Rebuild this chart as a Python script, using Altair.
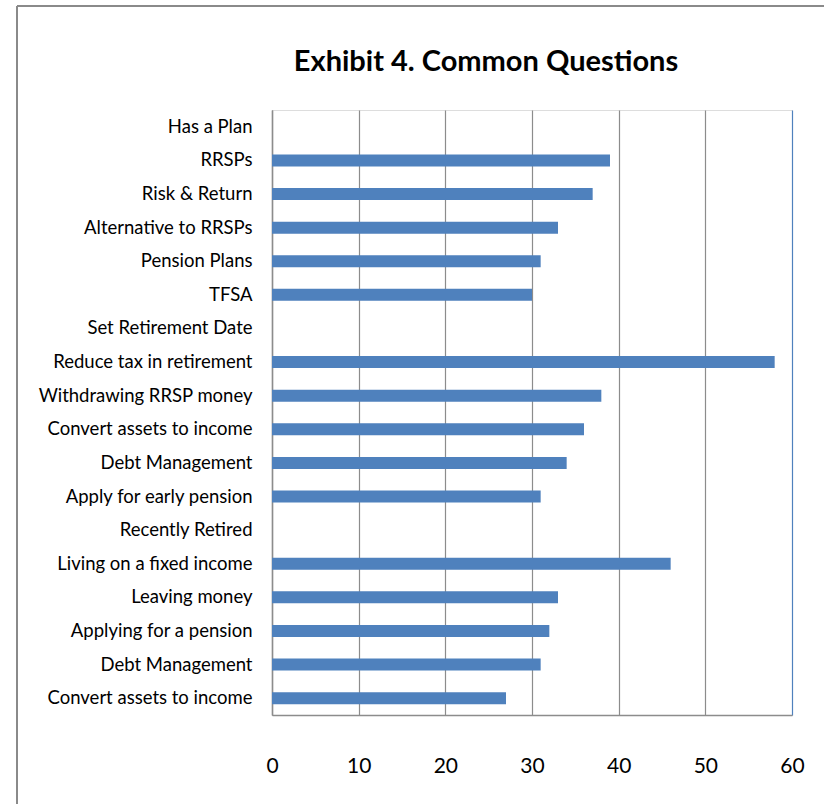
import altair as alt
import pandas as pd

TITLE = "Exhibit 4. Common Questions"

# Questions, top to bottom; section headers carry no count
questions = [
    "Has a Plan",
    "RRSPs",
    "Risk & Return",
    "Alternative to RRSPs",
    "Pension Plans",
    "TFSA",
    "Set Retirement Date",
    "Reduce tax in retirement",
    "Withdrawing RRSP money",
    "Convert assets to income",
    "Debt Management",
    "Apply for early pension",
    "Recently Retired",
    "Living on a fixed income",
    "Leaving money",
    "Applying for a pension",
    "Debt Management",
    "Convert assets to income",
]
counts = [None, 39, 37, 33, 31, 30, None, 58, 38, 36, 34, 31, None, 46, 33, 32, 31, 27]
x_ticks = [0, 10, 20, 30, 40, 50, 60]

FONT = "Lato"
BAR = "#4f81bd"
GRID = "#8c8c8c"

# Labels repeat, so rows are keyed by position and relabelled on the axis
df = pd.DataFrame({"row": list(range(len(questions))), "count": counts})
label_js = "[" + ",".join("'" + q.replace("'", "\\'") + "'" for q in questions) + "]"

bars = alt.Chart(df).mark_bar(color=BAR, size=12).encode(
    x=alt.X(
        "count:Q",
        scale=alt.Scale(domain=[0, 60], nice=False),
        axis=alt.Axis(
            values=x_ticks,
            title=None,
            grid=True,
            gridColor={"condition": {"test": "datum.value === 60", "value": BAR}, "value": GRID},
            gridWidth=1.2,
            ticks=False,
            domainColor=GRID,
            domainWidth=1.5,
            labelFont=FONT,
            labelFontSize=21,
            labelColor="#000000",
            labelPadding=40,
            labelFlush=False,
        ),
    ),
    y=alt.Y(
        "row:O",
        scale=alt.Scale(domain=list(range(len(questions))), paddingInner=0.66, paddingOuter=0.33),
        axis=alt.Axis(
            title=None,
            ticks=False,
            domainColor=GRID,
            domainWidth=1.5,
            labelFont=FONT,
            labelFontSize=18.5,
            labelColor="#000000",
            labelPadding=20,
            labelLimit=0,
            labelExpr=label_js + "[datum.value]",
        ),
    ),
)

# Chart heading, placed over the figure rather than over the plot area
heading = alt.Chart(pd.DataFrame({"t": [TITLE]})).mark_text(
    font=FONT, fontSize=29, fontWeight="bold", color="#000000", align="center", baseline="alphabetic"
).encode(x=alt.value(214), y=alt.value(-39), text="t:N")

# Outer frame lines along the left and top edges of the figure
frame_left = alt.Chart(df).mark_rule(color="#8a8a8a", strokeWidth=2).encode(
    x=alt.value(-255), y=alt.value(-104), y2=alt.value(700)
)
frame_top = alt.Chart(df).mark_rule(color="#8a8a8a", strokeWidth=2).encode(
    x=alt.value(-255), x2=alt.value(560), y=alt.value(-104)
)

chart = (
    alt.layer(frame_left, frame_top, heading, bars)
    .properties(
        width=520,
        height=605,
        padding={"left": 272, "top": 110, "right": 32, "bottom": 89},
        autosize=alt.AutoSizeParams(type="none"),
    )
    .configure_view(stroke="#4f81bd", strokeWidth=1.5)
    .configure(background="#ffffff")
)

chart.save("out.html", embed_options={"renderer": "svg", "actions": False})
